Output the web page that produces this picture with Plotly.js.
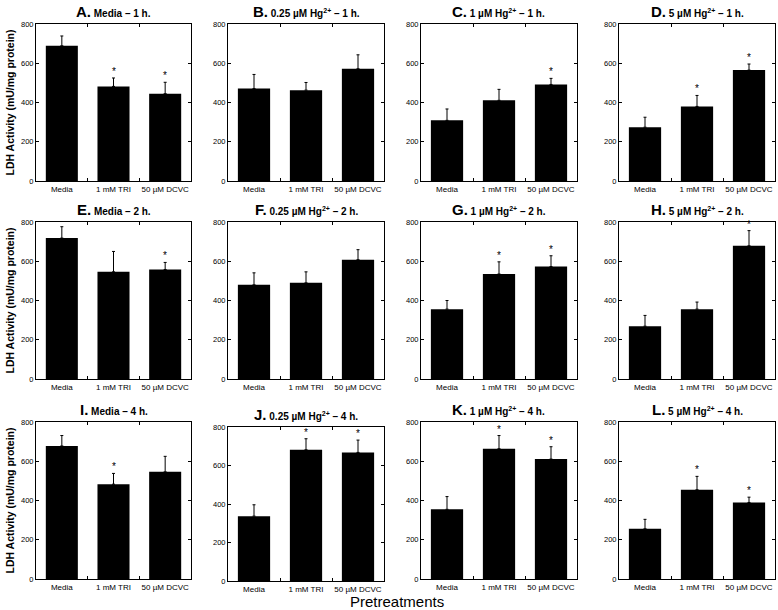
<!DOCTYPE html>
<html>
<head>
<meta charset="utf-8">
<script src="https://cdn.plot.ly/plotly-3.0.1.min.js"></script>
<style>html,body{margin:0;padding:0;background:#fff;}#chart{width:778px;height:610px;}</style>
</head>
<body>
<div id="chart"></div>
<script>
// ---- data ----
const categories = ['Media', '1 mM TRI', '50 µM DCVC'];
const panelLetters = ['A', 'B', 'C', 'D', 'E', 'F', 'G', 'H', 'I', 'J', 'K', 'L'];
const panelTitles = [
  'Media – 1 h.', '0.25 µM Hg<sup>2+</sup> – 1 h.', '1 µM Hg<sup>2+</sup> – 1 h.', '5 µM Hg<sup>2+</sup> – 1 h.',
  'Media – 2 h.', '0.25 µM Hg<sup>2+</sup> – 2 h.', '1 µM Hg<sup>2+</sup> – 2 h.', '5 µM Hg<sup>2+</sup> – 2 h.',
  'Media – 4 h.', '0.25 µM Hg<sup>2+</sup> – 4 h.', '1 µM Hg<sup>2+</sup> – 4 h.', '5 µM Hg<sup>2+</sup> – 4 h.'
];
const means = [
  [689, 482, 445], [471, 463, 572], [309, 411, 492], [274, 380, 565],
  [718, 546, 558], [480, 490, 608], [356, 535, 573], [269, 356, 679],
  [678, 483, 546], [337, 682, 668], [355, 664, 611], [256, 455, 390]
];
const errors = [
  [50, 43, 58], [72, 39, 71], [58, 56, 31], [51, 56, 31],
  [58, 104, 36], [61, 56, 51], [44, 62, 55], [55, 36, 77],
  [53, 55, 79], [59, 57, 64], [65, 67, 63], [48, 68, 27]
];
const significant = [
  [0, 1, 1], [0, 0, 0], [0, 0, 1], [0, 1, 1],
  [0, 0, 1], [0, 0, 0], [0, 1, 1], [0, 0, 1],
  [0, 1, 0], [0, 1, 1], [0, 1, 1], [0, 1, 1]
];
const yTicks = [0, 200, 400, 600, 800];
const yTitle = 'LDH Activity (mU/mg protein)';
const xTitle = 'Pretreatments';

// ---- layout geometry (pixels) ----
const W = 778, H = 610;
const cols = [[36, 191], [228, 384], [421, 577], [619, 775]];
const rows = [[24, 181], [222, 379], [422, 579]];
const rowOverride = {9: [427, 581]};

const FONT = 'Arial, "Liberation Sans", Helvetica, sans-serif';
const data = [];
const layout = {
  width: W, height: H,
  margin: {l: 0, r: 0, t: 0, b: 0},
  paper_bgcolor: '#fff', plot_bgcolor: '#fff',
  showlegend: false,
  font: {family: FONT, color: '#000'},
  annotations: []
};

for (let p = 0; p < 12; p++) {
  const r = Math.floor(p / 4), c = p % 4;
  const rr = rowOverride[p] || rows[r];
  const xd = [cols[c][0] / W, cols[c][1] / W];
  const yd = [1 - rr[1] / H, 1 - rr[0] / H];
  const sfx = p === 0 ? '' : String(p + 1);
  const xa = 'x' + sfx, ya = 'y' + sfx;

  data.push({
    type: 'bar', x: categories, y: means[p], xaxis: xa, yaxis: ya,
    marker: {color: '#000', line: {width: 0}},
    width: 0.62,
    error_y: {type: 'data', symmetric: false, array: errors[p], arrayminus: errors[p].map(() => 0),
              color: '#000', thickness: 1, width: 1.5},
    hoverinfo: 'none'
  });
  // significance stars placed just above the error bar tops
  for (let i = 0; i < 3; i++) {
    if (significant[p][i]) {
      layout.annotations.push({
        xref: xa, yref: ya, x: categories[i], y: means[p][i] + errors[p][i],
        xanchor: 'center', yanchor: 'bottom', yshift: -1, showarrow: false,
        text: '*', font: {size: 10, family: FONT, color: '#000'}
      });
    }
  }

  layout['xaxis' + sfx] = {
    domain: xd, anchor: ya, type: 'category', range: [-0.5, 2.5],
    showline: true, linecolor: '#000', linewidth: 1, mirror: 'ticks',
    ticks: 'inside', ticklen: 3, tickwidth: 1, tickcolor: '#000', tickson: 'boundaries',
    tickangle: 0,
    tickfont: {size: 8, family: FONT, color: '#000'},
    showgrid: false, zeroline: false, fixedrange: true
  };
  layout['yaxis' + sfx] = {
    domain: yd, anchor: xa, range: [0, 800], tickvals: yTicks,
    showline: true, linecolor: '#000', linewidth: 1, mirror: 'ticks',
    ticks: 'inside', ticklen: 3, tickwidth: 1, tickcolor: '#000',
    tickfont: {size: 7.5, family: FONT, color: '#000'},
    showgrid: false, zeroline: false, fixedrange: true
  };

  layout.annotations.push({
    xref: 'paper', yref: 'paper', x: (xd[0] + xd[1]) / 2, y: yd[1],
    xanchor: 'center', yanchor: 'bottom', yshift: 2, showarrow: false,
    text: '<b><span style="font-size:15px">' + panelLetters[p] + '.</span> ' + panelTitles[p] + '</b>',
    font: {size: 10, family: FONT, color: '#000'}
  });
}

// row y-axis titles
for (let r = 0; r < 3; r++) {
  const rr = rows[r];
  layout.annotations.push({
    xref: 'paper', yref: 'paper', x: 9 / W, y: 1 - ((rr[0] + rr[1]) / 2) / H,
    xanchor: 'center', yanchor: 'middle', textangle: -90, showarrow: false,
    text: '<b>' + yTitle + '</b>', font: {size: 10.5, family: FONT, color: '#000'}
  });
}
layout.annotations.push({
  xref: 'paper', yref: 'paper', x: 397 / W, y: 1 - 601 / H,
  xanchor: 'center', yanchor: 'middle', showarrow: false,
  text: xTitle, font: {size: 15, family: FONT, color: '#000'}
});

Plotly.newPlot('chart', data, layout, {staticPlot: true, displayModeBar: false});
</script>
</body>
</html>
